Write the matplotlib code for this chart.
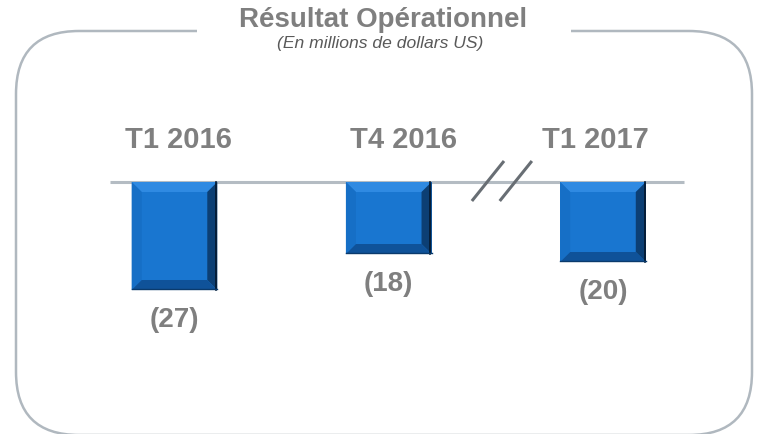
import matplotlib
matplotlib.use("Agg")
import matplotlib.pyplot as plt
from matplotlib.patches import FancyBboxPatch, Rectangle, Polygon

# données (en millions de dollars US)
periodes = ["T1 2016", "T4 2016", "T1 2017"]
resultat = [-27, -18, -20]
etiquettes = ["(27)", "(18)", "(20)"]

titre = "Résultat Opérationnel"
sous_titre = "(En millions de dollars US)"

plt.rcParams["font.family"] = ["Liberation Sans", "DejaVu Sans"]

GRIS = "#7f7f7f"
BLEU = "#1976d0"

fig = plt.figure(figsize=(7.58, 4.34), dpi=100)

# fond : cadre arrondi + titre, en pixels
ax_bg = fig.add_axes([0, 0, 1, 1])
ax_bg.set_xlim(0, 758)
ax_bg.set_ylim(434, 0)
ax_bg.axis("off")
cadre = FancyBboxPatch((16, 31), 736, 404, boxstyle="round,pad=0,rounding_size=63",
                       facecolor="none", edgecolor="#b0b8bf", linewidth=1.8, zorder=1)
ax_bg.add_patch(cadre)
ax_bg.add_patch(Rectangle((197, 24), 374, 14, facecolor="white", edgecolor="none", zorder=2))
ax_bg.text(383.5, 27, titre, ha="center", va="baseline", fontsize=20,
           fontweight="bold", color=GRIS, zorder=3)
ax_bg.text(380, 48, sous_titre, ha="center", va="baseline", fontsize=12.6,
           fontstyle="italic", color="#595959", zorder=3)

# graphique : 4 px par million, y=0 à 182 px du haut
ax = fig.add_axes([67.375 / 758, 0, 642.75 / 758, 1])
ax.patch.set_alpha(0)
ax.set_xlim(-0.5, 2.5)
ax.set_ylim(-63, 45.5)
ax.axis("off")

x = list(range(len(periodes)))
largeur = 0.4

ax.hlines(0, x[0] - 0.3, x[-1] + 0.38, color="#b4bcc3", linewidth=2.2, zorder=1)

barres = ax.bar(x, resultat, width=largeur, color=BLEU, edgecolor="none", zorder=2)

# effet biseauté sur chaque barre
dx, dy = 0.047, 2.5
for b in barres:
    x0, x1 = b.get_x(), b.get_x() + b.get_width()
    haut, bas = 0, b.get_height()
    faces = [
        ([(x0, haut), (x1, haut), (x1 - dx, haut - dy), (x0 + dx, haut - dy)], "#2f8ae2"),
        ([(x0, haut), (x0 + dx, haut - dy), (x0 + dx, bas + dy), (x0, bas)], "#166fc6"),
        ([(x1, haut), (x1, bas), (x1 - dx, bas + dy), (x1 - dx, haut - dy)], "#0c3f74"),
        ([(x0, bas), (x1, bas), (x1 - dx, bas + dy), (x0 + dx, bas + dy)], "#0f5299"),
    ]
    for pts, c in faces:
        ax.add_patch(Polygon(pts, closed=True, facecolor=c, edgecolor="none", zorder=3))
    ax.plot([x1 - 0.006, x1 - 0.006], [haut, bas], color="#04182e", linewidth=1.2, zorder=4)
    ax.plot([x0, x1], [bas + 0.3, bas + 0.3], color="#0a3a6c", linewidth=1.0, zorder=4)

# étiquettes de période
decalage = [0.019, 0.068, -0.035]
for xi, p, d in zip(x, periodes, decalage):
    ax.text(xi + d, 8.5, p, ha="center", va="baseline", fontsize=21,
            fontweight="bold", color=GRIS)

# valeurs sous les barres
for xi, v, lab in zip(x, resultat, etiquettes):
    ax.text(xi, v - 7.4, lab, ha="center", va="center", fontsize=20,
            fontweight="bold", color=GRIS)

# rupture d'échelle entre T4 2016 et T1 2017
coupure = 1.528
for off in (-0.065, 0.065):
    cx = coupure + off
    ax.plot([cx - 0.075, cx + 0.075], [-4.75, 5.25], color="#686e74",
            linewidth=2.2, solid_capstyle="butt", zorder=5)

fig.savefig("out.png", dpi=100)
